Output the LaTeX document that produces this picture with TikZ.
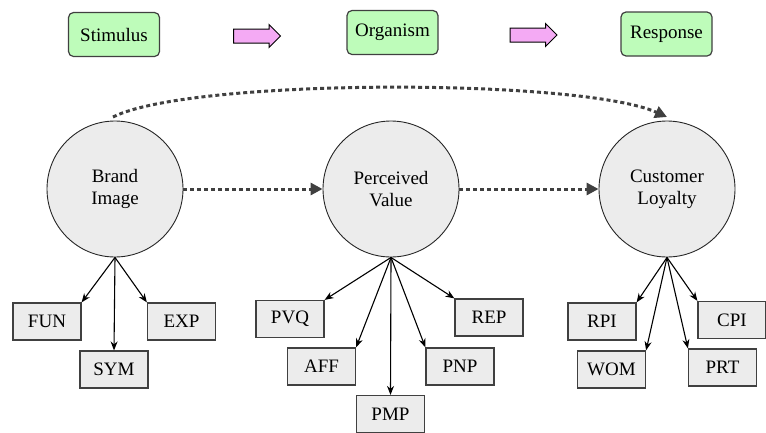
\documentclass[tikz,border=0pt]{standalone}
\usepackage{fontspec}
\setmainfont{Liberation Serif}
\newfontfamily\diagfont{Liberation Serif}
\usetikzlibrary{arrows.meta,shapes.arrows}
\definecolor{sorgreen}{RGB}{190,252,186}
\definecolor{sorpink}{RGB}{244,170,244}
\definecolor{boxgray}{RGB}{236,236,236}
\definecolor{dashgray}{RGB}{64,64,64}

\begin{document}
\begin{tikzpicture}[x=1pt,y=-1pt,
  font=\diagfont\fontsize{19}{22}\selectfont,
  sor/.style={draw=black!75,line width=1.2pt,fill=sorgreen,rounded corners=5pt,minimum width=91pt,minimum height=44pt,inner sep=0pt},
  sorarrow/.style={single arrow,draw=black,line width=1pt,fill=sorpink,minimum height=47pt,inner sep=6.5pt,single arrow head extend=4.5pt},
  lat/.style={circle,draw=black!85,line width=0.9pt,fill=boxgray,minimum size=136pt,inner sep=0pt,align=center},
  ind/.style={draw=black!75,line width=1.2pt,fill=boxgray,minimum width=68pt,minimum height=37pt,inner sep=0pt},
  load/.style={-{Stealth[length=9pt,width=7pt]},line width=1.1pt},
  path/.style={-{Triangle[length=12pt,width=12pt]},line width=3pt,color=dashgray,dash pattern=on 4pt off 3pt}]
\useasboundingbox (0,0) rectangle (766,432);

% stimulus - organism - response
\node[sor] (stim) at (114,34.5) {Stimulus};
\node[sor] (org) at (392.5,32.5) {Organism};
\node[sor] (resp) at (666.5,34) {Response};
\node[sorarrow] (sa1) at (253.5,36) {};
\node[sorarrow] (sa2) at (530,35) {};

% latent constructs
\node[lat] (bi) at (115,189) {Brand\\Image};
\node[lat] (pv) at (391,189) {Perceived\\Value};
\node[lat] (cl) at (667,189) {Customer\\Loyalty};

\coordinate (bitop) at (113,117);
\coordinate (cltop) at (667,117);
\draw[path] (bi.east) -- (pv.west);
\draw[path] (pv.east) -- (cl.west);
\draw[path] (bitop) .. controls (190,78) and (580,78) .. (cltop);

% brand image indicators
\node[ind] (fun) at (47,321.5) {FUN};
\node[ind] (sym) at (114,369.5) {SYM};
\node[ind] (exp) at (181.5,321.5) {EXP};
\draw[load] (bi.south) -- (fun.north east);
\draw[load] (bi.south) -- (sym.north);
\draw[load] (bi.south) -- (exp.north west);

% perceived value indicators
\node[ind] (pvq) at (290,319) {PVQ};
\node[ind] (aff) at (321.5,366.5) {AFF};
\node[ind] (pmp) at (390.5,414) {PMP};
\node[ind] (pnp) at (460,366.5) {PNP};
\node[ind] (rep) at (489,317.5) {REP};
\draw[load] (pv.south) -- (pvq.north east);
\draw[load] (pv.south) -- (aff.north east);
\draw[load] (pv.south) -- (pmp.north);
\draw[load] (pv.south) -- (pnp.north west);
\draw[load] (pv.south) -- (rep.north west);

% customer loyalty indicators
\node[ind] (rpi) at (602,321.5) {RPI};
\node[ind] (wom) at (611.5,369.5) {WOM};
\node[ind] (prt) at (722.5,367.5) {PRT};
\node[ind] (cpi) at (732,320) {CPI};
\draw[load] (cl.south) -- (rpi.north east);
\draw[load] (cl.south) -- (wom.north east);
\draw[load] (cl.south) -- (prt.north west);
\draw[load] (cl.south) -- (cpi.north west);
\end{tikzpicture}
\end{document}
